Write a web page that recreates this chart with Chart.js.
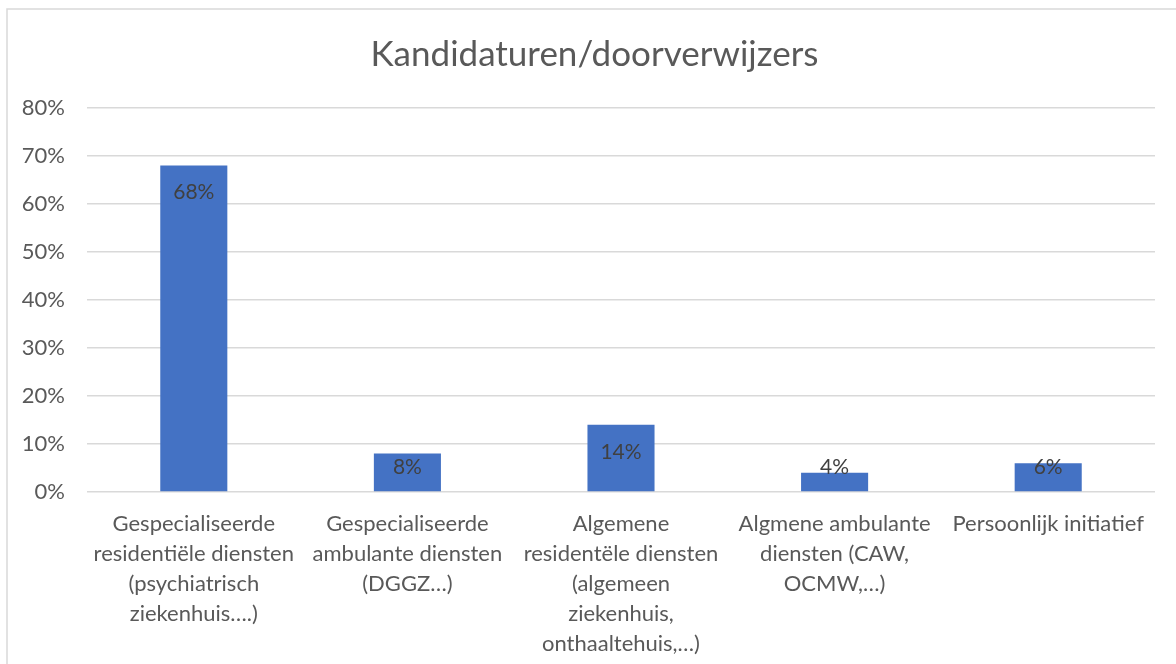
<!DOCTYPE html>
<html>
<head>
<meta charset="utf-8">
<script src="https://cdn.jsdelivr.net/npm/chart.js@4.4.1/dist/chart.umd.min.js"></script>
<style>
  html, body { margin: 0; padding: 0; background: #fff; overflow: hidden; }
  #wrap { position: relative; width: 1176px; height: 664px; }
</style>
</head>
<body>
<div id="wrap"><canvas id="grafiek" width="1176" height="664"></canvas></div>
<script>
// categorieën (meerdere regels zoals in Excel)
const categorieen = [
    ['Gespecialiseerde', 'residentiële diensten', '(psychiatrisch', 'ziekenhuis….)'],
    ['Gespecialiseerde', 'ambulante diensten', '(DGGZ…)'],
    ['Algemene', 'residentële diensten', '(algemeen', 'ziekenhuis,', 'onthaaltehuis,…)'],
    ['Algmene ambulante', 'diensten (CAW,', 'OCMW,…)'],
    ['Persoonlijk initiatief']
];
const percentages = [68, 8, 14, 4, 6];
const yTicks = [0, 10, 20, 30, 40, 50, 60, 70, 80];

const tekstKleur = '#595959';
const lettertype = 'Lato, "Open Sans", sans-serif';

// rand rond de grafiek (Excel-stijl)
const randPlugin = {
    id: 'rand',
    afterLayout(chart) {
        // titel iets naar rechts, zoals in Excel
        if (chart.titleBlock) chart.titleBlock.left += 24;
    },
    beforeDraw(chart) {
        const c = chart.ctx;
        c.save();
        c.fillStyle = '#fff';
        c.fillRect(0, 0, chart.width, chart.height);
        c.strokeStyle = '#d9d9d9';
        c.lineWidth = 1.5;
        c.strokeRect(7, 9, chart.width + 20, chart.height + 20);
        c.restore();
    }
};

// gegevenslabels binnen het uiteinde van de staaf
const labelPlugin = {
    id: 'labels',
    afterDatasetsDraw(chart) {
        const c = chart.ctx;
        const yAs = chart.scales.y;
        const basis = yAs.getPixelForValue(0);
        c.save();
        c.font = '21px ' + lettertype;
        c.fillStyle = '#404040';
        c.textAlign = 'center';
        c.textBaseline = 'middle';
        chart.getDatasetMeta(0).data.forEach(function(bar, i) {
            const y = Math.min(bar.y + 27, basis - 25);
            c.fillText(percentages[i] + '%', bar.x, y);
        });
        c.restore();
    }
};

document.addEventListener('DOMContentLoaded', function() {
    const ctx = document.getElementById('grafiek').getContext('2d');

    new Chart(ctx, {
        type: 'bar',
        data: {
            labels: categorieen,
            datasets: [{
                data: percentages,
                backgroundColor: '#4472C4',
                borderWidth: 0,
                categoryPercentage: 1,
                barPercentage: 0.314
            }]
        },
        options: {
            responsive: false,
            animation: false,
            layout: { padding: { left: 10, right: 21, top: 0, bottom: 0 } },
            plugins: {
                legend: { display: false },
                tooltip: { enabled: false },
                title: {
                    display: true,
                    text: 'Kandidaturen/doorverwijzers',
                    color: tekstKleur,
                    font: { family: lettertype, size: 35, weight: 'normal' },
                    padding: { top: 34, bottom: 32 }
                }
            },
            scales: {
                y: {
                    min: 0,
                    max: 80,
                    afterBuildTicks(axis) {
                        axis.ticks = yTicks.map(v => ({ value: v }));
                    },
                    afterFit(axis) { axis.width = 77; },
                    ticks: {
                        color: tekstKleur,
                        font: { family: lettertype, size: 22 },
                        padding: 22,
                        callback: v => v + '%'
                    },
                    grid: { color: '#d9d9d9', lineWidth: 1.5, drawTicks: false },
                    border: { display: false }
                },
                x: {
                    afterFit(axis) { axis.height = 172; },
                    grid: { display: false, drawTicks: false },
                    border: { display: false },
                    ticks: {
                        color: tekstKleur,
                        font: { family: lettertype, size: 22, lineHeight: 30 / 22 },
                        maxRotation: 0,
                        autoSkip: false,
                        padding: 17
                    }
                }
            }
        },
        plugins: [randPlugin, labelPlugin]
    });
});
</script>
</body>
</html>
